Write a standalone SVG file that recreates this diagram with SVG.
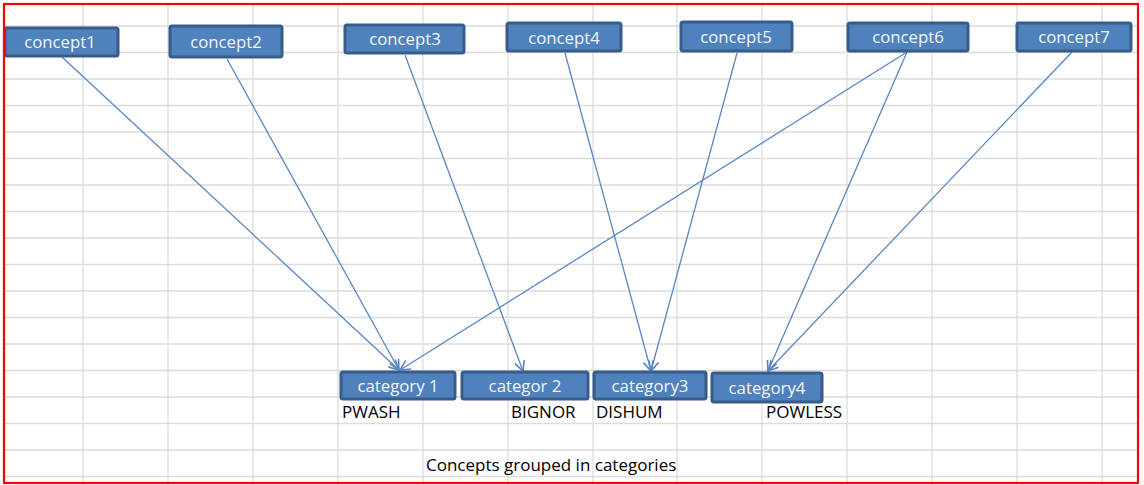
<svg xmlns="http://www.w3.org/2000/svg" width="1144" height="485" viewBox="0 0 1144 485">
<defs>
<style>
.grid line{stroke:#dadcdd;stroke-width:1.3}
.box{fill:#4f81bd;stroke:#385d8a;stroke-width:3}
.bt{fill:#f4f7fc;font-family:"Open Sans","Liberation Sans",sans-serif;font-size:16.8px;text-anchor:middle}
.lbl{fill:#000000;font-family:"Open Sans","Liberation Sans",sans-serif;font-size:17px}
.conn line{stroke:#5a86c4;stroke-width:1.3;fill:none;marker-end:url(#arr)}
</style>
<marker id="arr" viewBox="0 0 12 12" refX="11" refY="6" markerWidth="12" markerHeight="12" markerUnits="userSpaceOnUse" orient="auto">
<path d="M1,1 L11,6 L1,11" fill="none" stroke="#5a86c4" stroke-width="1.6"/>
</marker>
</defs>
<rect x="0" y="0" width="1144" height="485" fill="#ffffff"/>
<g class="grid">
<line x1="83" y1="4" x2="83" y2="483"/>
<line x1="168" y1="4" x2="168" y2="483"/>
<line x1="253" y1="4" x2="253" y2="483"/>
<line x1="338" y1="4" x2="338" y2="483"/>
<line x1="423" y1="4" x2="423" y2="483"/>
<line x1="508" y1="4" x2="508" y2="483"/>
<line x1="593" y1="4" x2="593" y2="483"/>
<line x1="677" y1="4" x2="677" y2="483"/>
<line x1="762" y1="4" x2="762" y2="483"/>
<line x1="847" y1="4" x2="847" y2="483"/>
<line x1="932" y1="4" x2="932" y2="483"/>
<line x1="1017" y1="4" x2="1017" y2="483"/>
<line x1="1102" y1="4" x2="1102" y2="483"/>
<line x1="4" y1="26" x2="1138" y2="26"/>
<line x1="4" y1="52.5" x2="1138" y2="52.5"/>
<line x1="4" y1="79" x2="1138" y2="79"/>
<line x1="4" y1="105.5" x2="1138" y2="105.5"/>
<line x1="4" y1="132" x2="1138" y2="132"/>
<line x1="4" y1="158.5" x2="1138" y2="158.5"/>
<line x1="4" y1="185" x2="1138" y2="185"/>
<line x1="4" y1="211.5" x2="1138" y2="211.5"/>
<line x1="4" y1="238" x2="1138" y2="238"/>
<line x1="4" y1="264.5" x2="1138" y2="264.5"/>
<line x1="4" y1="291" x2="1138" y2="291"/>
<line x1="4" y1="317.5" x2="1138" y2="317.5"/>
<line x1="4" y1="344" x2="1138" y2="344"/>
<line x1="4" y1="370.5" x2="1138" y2="370.5"/>
<line x1="4" y1="397" x2="1138" y2="397"/>
<line x1="4" y1="423.5" x2="1138" y2="423.5"/>
<line x1="4" y1="450" x2="1138" y2="450"/>
<line x1="4" y1="476.5" x2="1138" y2="476.5"/>
</g>
<g class="conn">
<line x1="62" y1="57" x2="399" y2="370"/>
<line x1="227" y1="59" x2="399" y2="370"/>
<line x1="907" y1="52" x2="400" y2="370"/>
<line x1="405" y1="55" x2="523" y2="371"/>
<line x1="565" y1="53" x2="651" y2="371"/>
<line x1="737" y1="53" x2="651" y2="371"/>
<line x1="907" y1="52" x2="768" y2="371"/>
<line x1="1072" y1="52" x2="768" y2="371"/>
</g>
<g id="concept1"><rect class="box" x="5" y="28" width="113" height="28" rx="2"/><text class="bt" x="60" y="48">concept1</text></g>
<g id="concept2"><rect class="box" x="170" y="26" width="112" height="31" rx="2"/><text class="bt" x="226" y="48">concept2</text></g>
<g id="concept3"><rect class="box" x="345" y="25" width="119" height="28" rx="2"/><text class="bt" x="405" y="45">concept3</text></g>
<g id="concept4"><rect class="box" x="507" y="23" width="114" height="28" rx="2"/><text class="bt" x="564" y="44">concept4</text></g>
<g id="concept5"><rect class="box" x="681" y="22" width="111" height="29" rx="2"/><text class="bt" x="736" y="43">concept5</text></g>
<g id="concept6"><rect class="box" x="848" y="23" width="120" height="28" rx="2"/><text class="bt" x="908" y="43">concept6</text></g>
<g id="concept7"><rect class="box" x="1017" y="23" width="114" height="28" rx="2"/><text class="bt" x="1074" y="43">concept7</text></g>
<g id="category1"><rect class="box" x="341" y="372" width="114" height="27" rx="2"/><text class="bt" x="398" y="392">category 1</text></g>
<g id="category2"><rect class="box" x="462" y="372" width="126" height="27" rx="2"/><text class="bt" x="525" y="392">categor 2</text></g>
<g id="category3"><rect class="box" x="594" y="372" width="112" height="27" rx="2"/><text class="bt" x="650" y="392">category3</text></g>
<g id="category4"><rect class="box" x="712" y="373" width="110" height="29" rx="2"/><text class="bt" x="767" y="394">category4</text></g>
<g id="labels">
<text class="lbl" x="342" y="418">PWASH</text>
<text class="lbl" x="511" y="418">BIGNOR</text>
<text class="lbl" x="596" y="418">DISHUM</text>
<text class="lbl" x="766" y="418">POWLESS</text>
<text class="lbl" x="426" y="471">Concepts grouped in categories</text>
</g>
<rect x="4" y="4" width="1134" height="479" fill="none" stroke="#ff0000" stroke-width="2.2"/>
</svg>
